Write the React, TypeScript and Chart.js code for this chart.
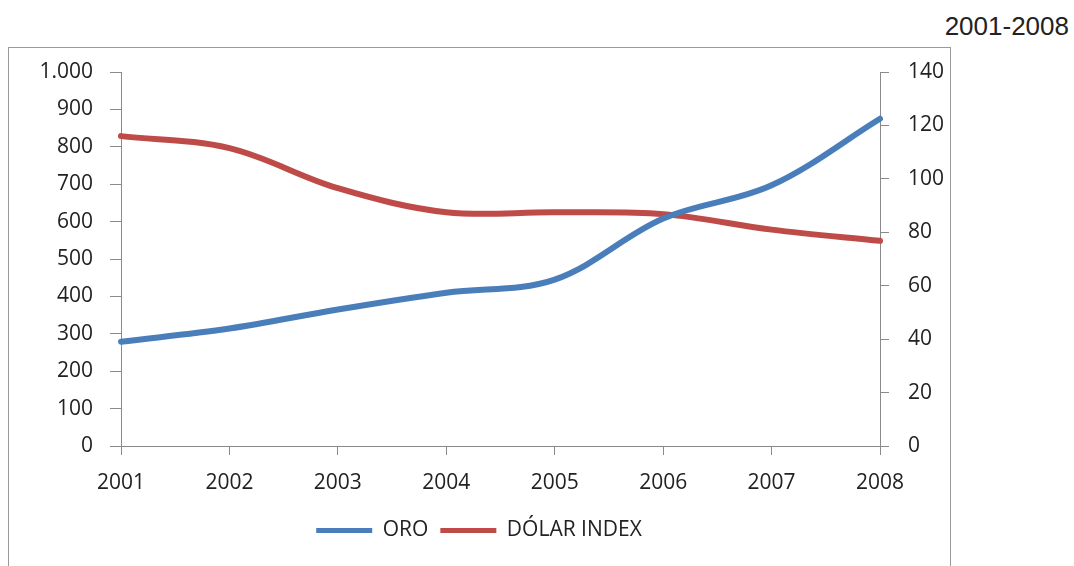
import React, { useEffect, useRef } from "react";
import { Chart, registerables } from "chart.js";

Chart.register(...registerables);

const years = ["2001", "2002", "2003", "2004", "2005", "2006", "2007", "2008"];
const oro = [279, 314, 365, 410, 445, 608, 697, 875];
const dolarIndex = [116, 111.5, 96.5, 87.5, 87.5, 86.8, 81, 76.8];
const seriesNames = ["ORO", "DÓLAR INDEX"];
const seriesColors = ["#4a7ebb", "#be4b48"];
const chartTitle = "2001-2008";

const fmt = (v: number) => {
  const s = String(Math.round(v));
  return s.replace(/\B(?=(\d{3})+(?!\d))/g, ".");
};

export default function App() {
  const ref = useRef<HTMLCanvasElement | null>(null);

  useEffect(() => {
    document.body.style.margin = "0";
    const ctx = ref.current!.getContext("2d")!;
    const tickFont = { family: "'Open Sans', Lato, sans-serif", size: 21 };
    const chart = new Chart(ctx, {
      type: "line",
      data: {
        labels: years,
        datasets: [
          {
            label: seriesNames[0],
            data: oro,
            borderColor: seriesColors[0],
            backgroundColor: seriesColors[0],
            borderWidth: 6,
            pointRadius: 0,
            tension: 0.35,
            yAxisID: "y",
            borderCapStyle: "round",
          },
          {
            label: seriesNames[1],
            data: dolarIndex,
            borderColor: seriesColors[1],
            backgroundColor: seriesColors[1],
            borderWidth: 6,
            pointRadius: 0,
            tension: 0.35,
            yAxisID: "y1",
            borderCapStyle: "round",
          },
        ],
      },
      options: {
        animation: false,
        responsive: false,
        maintainAspectRatio: false,
        layout: { padding: { left: 8, right: 124, top: 72, bottom: 15 } },
        plugins: {
          tooltip: { enabled: false },
          legend: {
            position: "bottom",
            labels: {
              color: "#222",
              font: { family: "'Open Sans', Lato, sans-serif", size: 21 },
              boxWidth: 56,
              boxHeight: 5,
              padding: 12,
              generateLabels: (c: any) =>
                c.data.datasets.map((d: any, i: number) => ({
                  text: d.label,
                  fillStyle: d.borderColor,
                  strokeStyle: d.borderColor,
                  lineWidth: 0,
                  hidden: false,
                  datasetIndex: i,
                  fontColor: "#222",
                })),
            },
          },
        },
        scales: {
          x: {
            offset: false,
            grid: {
              display: true,
              drawOnChartArea: false,
              drawTicks: true,
              tickLength: 9,
              color: "#8a8a8a",
            },
            border: { display: true, color: "#8a8a8a", width: 1 },
            ticks: { color: "#222", font: tickFont, padding: 15, maxRotation: 0 },
            afterFit: (s: any) => {
              s.height = 62;
            },
          },
          y: {
            position: "left",
            min: 0,
            max: 1000,
            ticks: {
              stepSize: 100,
              color: "#222",
              font: tickFont,
              padding: 17,
              callback: (v: any) => fmt(Number(v)),
            },
            grid: {
              display: true,
              drawOnChartArea: false,
              drawTicks: true,
              tickLength: 11,
              color: "#8a8a8a",
            },
            border: { display: true, color: "#8a8a8a", width: 1 },
            afterFit: (s: any) => {
              s.width = 113;
            },
          },
          y1: {
            position: "right",
            min: 0,
            max: 140,
            ticks: { stepSize: 20, color: "#222", font: tickFont, padding: 19 },
            grid: {
              display: true,
              drawOnChartArea: false,
              drawTicks: true,
              tickLength: 9,
              color: "#8a8a8a",
            },
            border: { display: true, color: "#8a8a8a", width: 1 },
            afterFit: (s: any) => {
              s.width = 70;
            },
          },
        },
      },
    });
    return () => chart.destroy();
  }, []);

  return (
    <div style={{ position: "relative", width: 1074, height: 566, overflow: "hidden", background: "#fff" }}>
      <div
        style={{
          position: "absolute",
          right: 5,
          top: 11,
          fontFamily: "'Liberation Sans', Arial, sans-serif",
          fontSize: 26,
          color: "#222",
        }}
      >
        {chartTitle}
      </div>
      <div
        style={{
          position: "absolute",
          left: 8,
          top: 47,
          width: 941,
          height: 560,
          border: "1px solid #9a9a9a",
        }}
      />
      <canvas ref={ref} width={1074} height={566} style={{ position: "absolute", left: 0, top: 0 }} />
    </div>
  );
}
